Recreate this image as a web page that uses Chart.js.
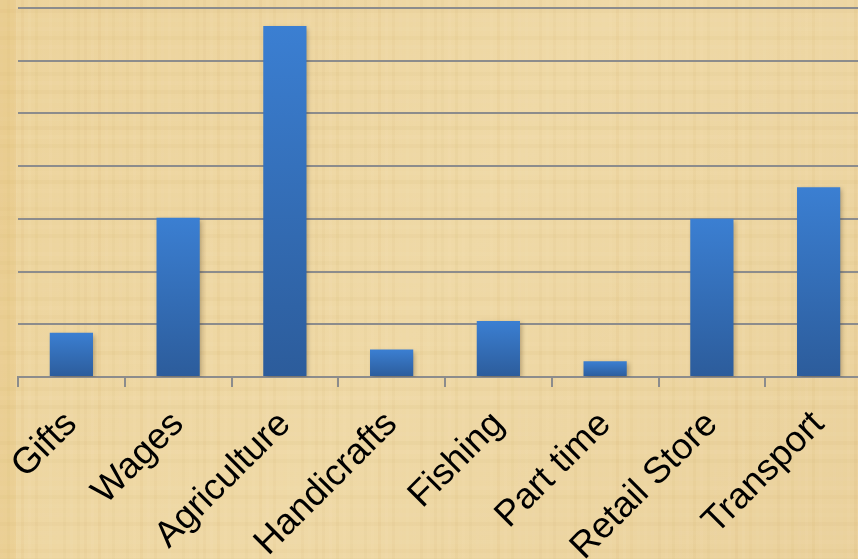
<html><head>
<script src="https://cdn.jsdelivr.net/npm/chart.js@4/dist/chart.umd.min.js"></script>
<style>
  html, body { margin: 0; padding: 0; overflow: hidden; background: #ecd49e; }
  #wrap { position: relative; width: 880px; height: 559px; }
</style>
</head>
<body>
<div id="wrap"><canvas id="bar-chart"></canvas></div>
<script>

var categories = ["Gifts", "Wages", "Agriculture", "Handicrafts", "Fishing", "Part time", "Retail Store", "Transport"];
var values = [4.2, 15.1, 33.3, 2.6, 5.3, 1.5, 15, 18];
var yTicks = [0, 5, 10, 15, 20, 25, 30, 35];

var gridColor = "#8c8c8c";

// papyrus-ish background, drawn before everything else
var paperPlugin = {
  id: "paper",
  beforeDraw: function(chart) {
    var ctx = chart.ctx;
    var w = chart.width, h = chart.height;
    ctx.save();
    var g = ctx.createLinearGradient(0, 0, w, h);
    g.addColorStop(0, "#ecd39b");
    g.addColorStop(0.5, "#efd9a6");
    g.addColorStop(1, "#ead19b");
    ctx.fillStyle = g;
    ctx.fillRect(0, 0, w, h);
    // fibres: fixed pattern from sin, just texture
    for (var x = 0; x < w; x += 7) {
      var a = 0.035 + 0.03 * Math.sin(x * 0.37) * Math.sin(x * 0.053);
      ctx.fillStyle = a > 0.04 ? "rgba(190,150,70," + a.toFixed(3) + ")" : "rgba(255,240,210," + (0.08 - a).toFixed(3) + ")";
      ctx.fillRect(x, 0, 3, h);
    }
    for (var y = 0; y < h; y += 9) {
      var b = 0.03 + 0.03 * Math.sin(y * 0.29) * Math.cos(y * 0.071);
      ctx.fillStyle = b > 0.035 ? "rgba(190,150,70," + b.toFixed(3) + ")" : "rgba(255,240,210," + (0.07 - b).toFixed(3) + ")";
      ctx.fillRect(0, y, w, 4);
    }
    ctx.fillStyle = "rgba(220,180,90,0.18)";
    ctx.fillRect(0, 0, 16, h);
    ctx.restore();
  }
};

var shadowPlugin = {
  id: "barShadow",
  beforeDatasetsDraw: function(chart) {
    var ctx = chart.ctx;
    ctx.save();
    ctx.shadowColor = "rgba(60,40,10,0.35)";
    ctx.shadowBlur = 5;
    ctx.shadowOffsetX = 2;
    ctx.shadowOffsetY = 2;
  },
  afterDatasetsDraw: function(chart) {
    chart.ctx.restore();
  }
};

function barFill(context) {
  var chart = context.chart;
  var y = chart.scales && chart.scales.y;
  if (!chart.chartArea || !y || context.dataIndex === undefined) return "#3475c2";
  var top = y.getPixelForValue(values[context.dataIndex]);
  var base = y.getPixelForValue(0);
  var g = chart.ctx.createLinearGradient(0, top, 0, base);
  g.addColorStop(0, "#3b7fd2");
  g.addColorStop(1, "#2c5c9b");
  return g;
}

new Chart(document.getElementById("bar-chart"), {
  type: "bar",
  data: {
    labels: categories,
    datasets: [{
      data: values,
      backgroundColor: barFill,
      borderWidth: 0,
      categoryPercentage: 1,
      barPercentage: 0.405
    }]
  },
  plugins: [paperPlugin, shadowPlugin],
  options: {
    responsive: true,
    maintainAspectRatio: false,
    animation: false,
    layout: { padding: { top: 8, left: 18, right: 8, bottom: 0 } },
    plugins: {
      legend: { display: false },
      tooltip: { enabled: false }
    },
    scales: {
      x: {
        grid: {
          display: true,
          drawOnChartArea: false,
          drawTicks: true,
          tickLength: 10,
          offset: true,
          color: gridColor,
          lineWidth: 2
        },
        border: { display: true, color: gridColor, width: 2 },
        ticks: {
          autoSkip: false,
          minRotation: 45,
          maxRotation: 45,
          padding: 16,
          color: "#000",
          font: { family: "'Liberation Sans', Arial, sans-serif", size: 36.5 }
        },
        afterFit: function(scale) {
          scale.height = 182;
          scale.paddingLeft = 0;
          scale.paddingRight = 0;
        }
      },
      y: {
        min: 0,
        max: 35,
        afterBuildTicks: function(scale) {
          scale.ticks = yTicks.map(function(v) { return { value: v }; });
        },
        grid: { color: gridColor, lineWidth: 2, drawTicks: false },
        border: { display: false },
        ticks: { display: false },
        afterFit: function(scale) {
          scale.width = 0;
        }
      }
    }
  }
});
</script>
</body>
</html>
